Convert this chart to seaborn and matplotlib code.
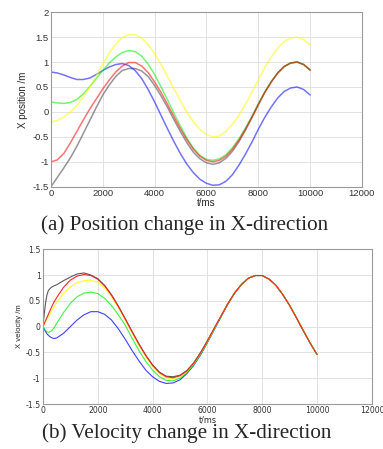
import matplotlib
matplotlib.use("Agg")
import matplotlib.pyplot as plt
import seaborn as sns

sns.set_theme(style="whitegrid")
plt.rcParams['font.family'] = ['Liberation Sans', 'DejaVu Sans']

# --- position data (t in ms, step 250) ---
t_pos = [0, 250, 500, 750, 1000, 1250, 1500, 1750, 2000, 2250,
         2500, 2750, 3000, 3250, 3500, 3750, 4000, 4250, 4500, 4750,
         5000, 5250, 5500, 5750, 6000, 6250, 6500, 6750, 7000, 7250,
         7500, 7750, 8000, 8250, 8500, 8750, 9000, 9250, 9500, 9750, 10000]
pos_black = [-1.5, -1.31, -1.12, -0.92, -0.69, -0.43, -0.17, 0.09, 0.34, 0.54,
             0.71, 0.83, 0.87, 0.87, 0.82, 0.71, 0.53, 0.32, 0.09, -0.16,
             -0.4, -0.62, -0.81, -0.94, -1.02, -1.05, -1.02, -0.93, -0.79, -0.6,
             -0.37, -0.12, 0.14, 0.39, 0.6, 0.78, 0.91, 0.98, 1.0, 0.95, 0.84]
pos_blue = [0.8, 0.78, 0.74, 0.69, 0.65, 0.65, 0.68, 0.75, 0.83, 0.9,
            0.95, 0.97, 0.93, 0.83, 0.67, 0.45, 0.2, -0.07, -0.34, -0.6,
            -0.84, -1.05, -1.22, -1.35, -1.43, -1.47, -1.46, -1.39, -1.26, -1.07,
            -0.85, -0.61, -0.35, -0.11, 0.1, 0.28, 0.41, 0.48, 0.5, 0.45, 0.34]
pos_green = [0.2, 0.18, 0.17, 0.19, 0.25, 0.36, 0.51, 0.67, 0.83, 0.98,
             1.1, 1.19, 1.23, 1.21, 1.12, 0.96, 0.75, 0.5, 0.24, -0.03,
             -0.29, -0.53, -0.73, -0.87, -0.95, -0.97, -0.94, -0.86, -0.72, -0.54,
             -0.33, -0.09, 0.16, 0.4, 0.61, 0.78, 0.91, 0.98, 1.0, 0.95, 0.84]
pos_yellow = [-0.2, -0.17, -0.1, 0.0, 0.13, 0.3, 0.5, 0.72, 0.96, 1.18,
              1.36, 1.49, 1.55, 1.55, 1.48, 1.35, 1.17, 0.95, 0.71, 0.46,
              0.22, -0.01, -0.2, -0.35, -0.45, -0.5, -0.48, -0.39, -0.25, -0.07,
              0.15, 0.39, 0.64, 0.89, 1.1, 1.28, 1.41, 1.48, 1.5, 1.45, 1.34]
pos_red = [-1.0, -0.96, -0.83, -0.62, -0.39, -0.16, 0.06, 0.26, 0.46, 0.64,
           0.8, 0.92, 0.99, 0.99, 0.92, 0.79, 0.6, 0.39, 0.15, -0.1,
           -0.34, -0.56, -0.75, -0.89, -0.97, -1.0, -0.97, -0.89, -0.75, -0.57,
           -0.35, -0.11, 0.15, 0.39, 0.6, 0.78, 0.91, 0.98, 1.0, 0.95, 0.84]

# --- velocity data (t in ms) ---
t_vel = [0, 50, 100, 150, 200, 300, 400, 500,
         750, 1000, 1250, 1500, 1750, 2000, 2250, 2500, 2750, 3000,
         3250, 3500, 3750, 4000, 4250, 4500, 4750, 5000, 5250, 5500,
         5750, 6000, 6250, 6500, 6750, 7000, 7250, 7500, 7750, 8000,
         8250, 8500, 8750, 9000, 9250, 9500, 9750, 10000]
vel_black = [0, 0.25, 0.47, 0.62, 0.7, 0.76, 0.79, 0.81,
             0.89, 0.96, 1.02, 1.04, 1.0, 0.93, 0.8, 0.62, 0.4, 0.16,
             -0.09, -0.33, -0.55, -0.74, -0.88, -0.96, -0.97, -0.94, -0.85, -0.7,
             -0.5, -0.27, -0.03, 0.21, 0.45, 0.66, 0.82, 0.94, 0.99, 0.99,
             0.92, 0.8, 0.62, 0.41, 0.17, -0.08, -0.32, -0.54]
vel_blue = [0, -0.05, -0.1, -0.14, -0.17, -0.21, -0.23, -0.22,
            -0.13, 0.0, 0.13, 0.23, 0.29, 0.29, 0.24, 0.13, -0.04, -0.24,
            -0.46, -0.66, -0.84, -0.97, -1.06, -1.1, -1.09, -1.03, -0.91, -0.75,
            -0.55, -0.31, -0.06, 0.19, 0.44, 0.65, 0.82, 0.94, 0.99, 0.99,
            0.92, 0.8, 0.62, 0.41, 0.17, -0.08, -0.32, -0.54]
vel_green = [0, -0.04, -0.08, -0.1, -0.11, -0.09, -0.03, 0.06,
             0.27, 0.45, 0.58, 0.65, 0.67, 0.64, 0.55, 0.41, 0.23, 0.03,
             -0.22, -0.46, -0.67, -0.84, -0.97, -1.04, -1.05, -1.0, -0.89, -0.74,
             -0.54, -0.3, -0.05, 0.2, 0.45, 0.66, 0.82, 0.94, 0.99, 0.99,
             0.92, 0.8, 0.62, 0.41, 0.17, -0.08, -0.32, -0.54]
vel_yellow = [0, 0.05, 0.1, 0.15, 0.19, 0.29, 0.38, 0.46,
              0.64, 0.77, 0.85, 0.89, 0.9, 0.86, 0.75, 0.58, 0.37, 0.13,
              -0.12, -0.36, -0.58, -0.77, -0.91, -0.99, -1.01, -0.97, -0.87, -0.72,
              -0.52, -0.29, -0.04, 0.21, 0.45, 0.66, 0.82, 0.94, 0.99, 0.99,
              0.92, 0.8, 0.62, 0.41, 0.17, -0.08, -0.32, -0.54]
vel_red = [0, 0.06, 0.12, 0.18, 0.24, 0.36, 0.47, 0.56,
           0.76, 0.9, 0.98, 1.01, 0.99, 0.92, 0.79, 0.61, 0.39, 0.15,
           -0.1, -0.34, -0.56, -0.75, -0.89, -0.97, -0.99, -0.95, -0.86, -0.71,
           -0.51, -0.28, -0.03, 0.21, 0.45, 0.66, 0.82, 0.94, 0.99, 0.99,
           0.92, 0.8, 0.62, 0.41, 0.17, -0.08, -0.32, -0.54]

x_ticks = [0, 2000, 4000, 6000, 8000, 10000, 12000]
pos_yticks = [-1.5, -1, -0.5, 0, 0.5, 1, 1.5, 2]
vel_yticks = [-1.5, -1, -0.5, 0, 0.5, 1, 1.5]

fig = plt.figure(figsize=(3.83, 4.49), dpi=100)
ax1 = fig.add_axes([0.133, 0.584, 0.812, 0.389])
ax2 = fig.add_axes([0.112, 0.100, 0.859, 0.345])


def style_axes(ax, yticks, fs, fam):
    ax.set_facecolor('white')
    ax.set_xlim(0, 12000)
    ax.set_ylim(yticks[0], yticks[-1])
    ax.set_xticks(x_ticks)
    ax.set_yticks(yticks)
    ax.set_xticklabels([str(v) for v in x_ticks], family=fam)
    ax.set_yticklabels(['%g' % v for v in yticks], family=fam)
    ax.grid(True, color='#e2e2e2', linewidth=0.7)
    for s in ax.spines.values():
        s.set_color('#9a9a9a')
        s.set_linewidth(0.8)
    ax.tick_params(axis='both', labelsize=fs, colors='#333333', pad=1.5,
                   length=2, direction='in', width=0.5)


series_pos = [(pos_black, '#404040'), (pos_blue, 'blue'), (pos_green, '#00ee00'),
              (pos_yellow, '#ffff00'), (pos_red, 'red')]
for vals, col in series_pos:
    sns.lineplot(x=t_pos, y=vals, color=col, ax=ax1, linewidth=1.1, alpha=0.55)
style_axes(ax1, pos_yticks, 6.8, ['Liberation Sans'])
ax1.set_xlabel('t/ms', fontsize=7, labelpad=0)
ax1.set_ylabel('X position /m', fontsize=7, labelpad=3)

series_vel = [(vel_black, '#303030', 0.8), (vel_blue, 'blue', 0.75),
              (vel_green, '#00ee00', 0.75), (vel_yellow, '#ffff00', 0.8),
              (vel_red, '#ee2020', 0.95)]
for vals, col, a in series_vel:
    sns.lineplot(x=t_vel, y=vals, color=col, ax=ax2, linewidth=0.8, alpha=a)
style_axes(ax2, vel_yticks, 5.6, ['DejaVu Sans'])
ax2.set_xlabel('t/ms', fontsize=5.8, labelpad=0, family=['DejaVu Sans'])
ax2.set_ylabel('X velocity /m', fontsize=5.5, labelpad=2)

fig.text(0.481, 0.499, '(a) Position change in X-direction', ha='center', va='center',
         fontsize=15.2, family=['Liberation Serif'])
fig.text(0.488, 0.036, '(b) Velocity change in X-direction', ha='center', va='center',
         fontsize=15.2, family=['Liberation Serif'])

fig.savefig('out.png', dpi=100, facecolor='white')
